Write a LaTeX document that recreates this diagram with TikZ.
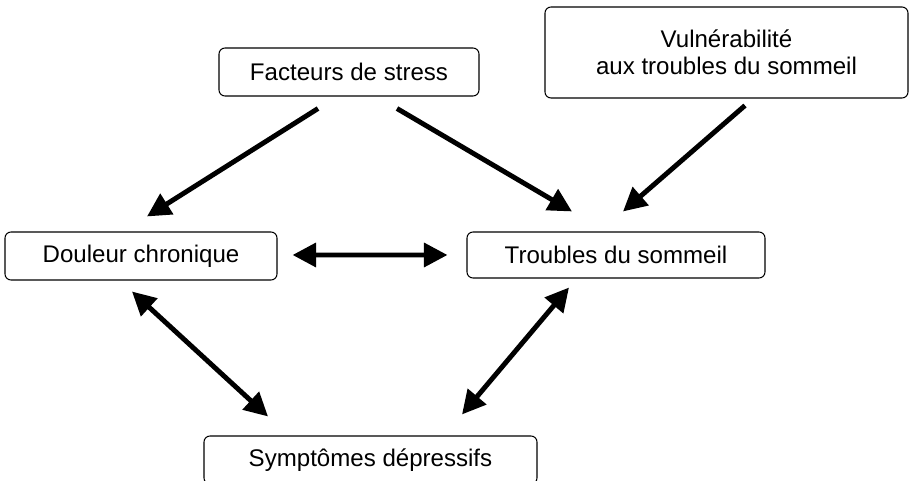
\documentclass[tikz,border=0pt]{standalone}
\usepackage{fontspec}
\setmainfont{Liberation Sans}
\usetikzlibrary{arrows.meta}
\begin{document}
\begin{tikzpicture}[
                box/.style = {draw, line width=0.6pt, rounded corners=1.2mm, align=center,
                              font=\fontsize{13.7}{15.2}\selectfont, inner sep=0mm},
                arr/.style = {draw, line width=2.8pt, -{Triangle[length=4.7mm, width=4.7mm]}},
                dblarr/.style = {draw, line width=2.8pt, {Triangle[length=4.7mm, width=4.7mm]}-{Triangle[length=4.7mm, width=4.7mm]}},
            ]
            \useasboundingbox (0,0) rectangle (18.18,9.62);

            \node (FS) [box, minimum width=5.2cm, minimum height=0.96cm] at (6.98, 8.18) {Facteurs de stress};
            \node (VT) [box, minimum width=7.26cm, minimum height=1.82cm] at (14.53, 8.57) {Vuln\'erabilit\'e\\aux troubles du sommeil};
            \node (DC) [box, minimum width=5.44cm, minimum height=0.96cm] at (2.82, 4.50) {Douleur chronique};
            \node (TS) [box, minimum width=5.96cm, minimum height=0.92cm] at (12.32, 4.52) {Troubles du sommeil};
            \node (SD) [box, minimum width=6.66cm, minimum height=0.96cm] at (7.41, 0.42) {Sympt\^omes d\'epressifs};

            \path[arr] ([xshift=-0.62cm, yshift=-0.24cm]FS.south) -- ([xshift=0.12cm, yshift=0.30cm]DC.north);
            \path[arr] ([xshift=0.96cm, yshift=-0.24cm]FS.south) -- ([xshift=-0.88cm, yshift=0.40cm]TS.north);
            \path[arr] ([xshift=0.37cm, yshift=-0.14cm]VT.south) -- ([xshift=0.14cm, yshift=0.40cm]TS.north);

            \path[dblarr] ([xshift=0.30cm, yshift=0.02cm]DC.east) -- ([xshift=-0.38cm]TS.west);
            \path[dblarr] ([xshift=-0.18cm, yshift=-0.22cm]DC.south) -- ([xshift=-2.05cm, yshift=0.38cm]SD.north);
            \path[dblarr] ([xshift=-0.94cm, yshift=-0.18cm]TS.south) -- ([xshift=1.83cm, yshift=0.42cm]SD.north);
        \end{tikzpicture}
\end{document}
